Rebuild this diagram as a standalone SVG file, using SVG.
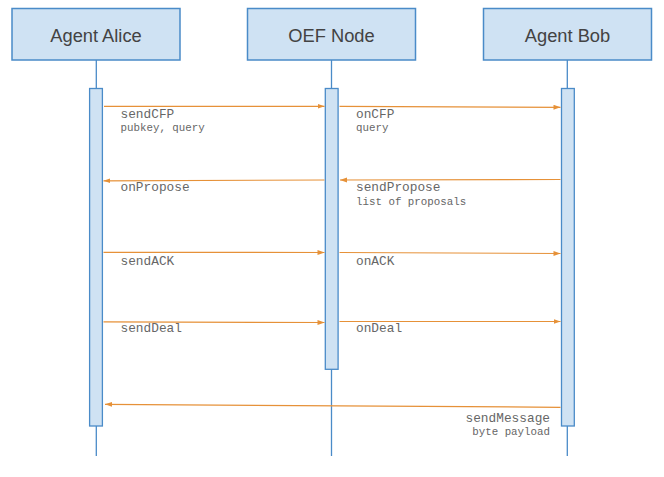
<svg xmlns="http://www.w3.org/2000/svg" width="664" height="477" viewBox="0 0 664 477">
<defs>
<style>
.box{fill:#cfe2f3;stroke:#4a8bc8;stroke-width:1.5}
.life{stroke:#4a8bc8;stroke-width:1.3;fill:none}
.bar{fill:#cfe2f3;stroke:#4a8bc8;stroke-width:1.3}
.hdr{font-family:"Liberation Sans",Arial,sans-serif;font-size:18.3px;fill:#434343;text-anchor:middle}
.msg{stroke:#e69138;stroke-width:1.2;fill:none;marker-end:url(#ah)}
.lbl{font-family:"Liberation Mono","Courier New",monospace;font-size:12.8px;fill:#666}
.sub{font-family:"Liberation Mono","Courier New",monospace;font-size:10.8px;fill:#666}
</style>
<marker id="ah" viewBox="0 0 10 10" refX="10" refY="5" markerWidth="7" markerHeight="7" markerUnits="userSpaceOnUse" orient="auto">
<path d="M0,1.5 L10,5 L0,8.5 z" fill="#e69138"/>
</marker>
</defs>
<rect width="664" height="477" fill="#fff"/>
<g id="alice">
<line class="life" x1="96.3" y1="60" x2="96.3" y2="456"/>
<rect class="box" x="12" y="8.5" width="168" height="51.5"/>
<text class="hdr" x="96" y="42">Agent Alice</text>
<rect class="bar" x="89.6" y="88.5" width="12.8" height="337.5"/>
</g>
<g id="oef">
<line class="life" x1="331.5" y1="60" x2="331.5" y2="456"/>
<rect class="box" x="247.5" y="8.5" width="168" height="51.5"/>
<text class="hdr" x="331.5" y="42">OEF Node</text>
<rect class="bar" x="325.3" y="88.5" width="12.8" height="280.8"/>
</g>
<g id="bob">
<line class="life" x1="567.3" y1="60" x2="567.3" y2="456"/>
<rect class="box" x="483.5" y="8.5" width="168" height="51.5"/>
<text class="hdr" x="567.5" y="42">Agent Bob</text>
<rect class="bar" x="561.5" y="88.5" width="12.8" height="337.5"/>
</g>
<g id="connectors">
<line class="msg" x1="104" y1="106.3" x2="324.5" y2="106.3"/>
<line class="msg" x1="339.5" y1="106.3" x2="560.5" y2="107.3"/>
<line class="msg" x1="560.5" y1="179.5" x2="340" y2="180"/>
<line class="msg" x1="324.5" y1="180" x2="103.5" y2="180.8"/>
<line class="msg" x1="103.5" y1="252.3" x2="324.5" y2="252.5"/>
<line class="msg" x1="339.5" y1="252.5" x2="560.5" y2="253.5"/>
<line class="msg" x1="103.5" y1="321.8" x2="324.5" y2="322.5"/>
<line class="msg" x1="339.5" y1="321.5" x2="560.5" y2="321.5"/>
<line class="msg" x1="560.5" y1="407.3" x2="105" y2="404.3"/>
</g>
<g id="labels">
<text class="lbl" x="120.5" y="117.5">sendCFP</text>
<text class="sub" x="120.5" y="131">pubkey, query</text>
<text class="lbl" x="356" y="117.5">onCFP</text>
<text class="sub" x="356" y="131">query</text>
<text class="lbl" x="120.5" y="191">onPropose</text>
<text class="lbl" x="356" y="191">sendPropose</text>
<text class="sub" x="356" y="204.5">list of proposals</text>
<text class="lbl" x="120.5" y="265">sendACK</text>
<text class="lbl" x="356" y="265">onACK</text>
<text class="lbl" x="120.5" y="332">sendDeal</text>
<text class="lbl" x="356" y="332">onDeal</text>
<text class="lbl" x="550" y="421.5" text-anchor="end">sendMessage</text>
<text class="sub" x="550" y="435" text-anchor="end">byte payload</text>
</g>
</svg>
